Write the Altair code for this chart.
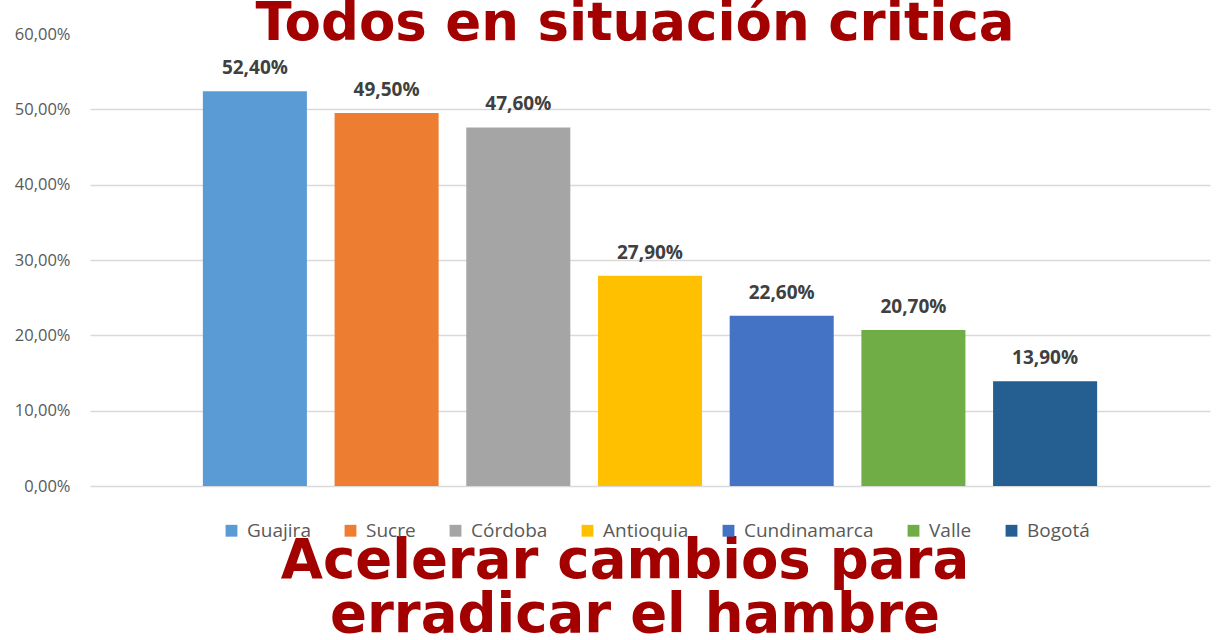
import altair as alt
import pandas as pd

departamentos = ["Guajira", "Sucre", "Córdoba", "Antioquia", "Cundinamarca", "Valle", "Bogotá"]
valores = [0.524, 0.495, 0.476, 0.279, 0.226, 0.207, 0.139]
colores = ["#5B9BD5", "#ED7D31", "#A5A5A5", "#FFC000", "#4472C4", "#70AD47", "#255E91"]
ticks_y = [0, 0.1, 0.2, 0.3, 0.4, 0.5, 0.6]
titulo = "Todos en situación critica"
linea1 = "Acelerar cambios para"
linea2 = "erradicar el hambre"

df = pd.DataFrame({"dep": departamentos, "val": valores})
df["label"] = [f"{v * 100:.2f}%".replace(".", ",") for v in valores]

RED = "#A30000"
FONT = "Open Sans"
BIG = "DejaVu Sans"

x = alt.X("dep:N", sort=departamentos, axis=None,
          scale=alt.Scale(paddingInner=0.21, paddingOuter=0.857))
y = alt.Y("val:Q", scale=alt.Scale(domain=[0, 0.6], nice=False),
          axis=alt.Axis(values=ticks_y, title=None, domain=False, ticks=False,
                        labelExpr="replace(format(datum.value, '.2%'), '.', ',')",
                        labelPadding=20, labelFontSize=16.5, labelColor="#595959",
                        labelFont=FONT, gridColor="#D9D9D9", gridWidth=1.5,
                        gridOpacity=alt.condition("datum.value >= 0.59", alt.value(0), alt.value(1))))

color = alt.Color("dep:N", sort=departamentos,
                  scale=alt.Scale(domain=departamentos, range=colores),
                  legend=alt.Legend(orient="none", legendX=132, legendY=487, direction="horizontal",
                                    title=None, symbolType="square", symbolSize=140,
                                    symbolStrokeWidth=0, labelFontSize=19, labelFont=FONT,
                                    labelColor="#595959", columnPadding=30, labelOffset=6))

base = alt.Chart(df)
bars = base.mark_bar().encode(x=x, y=y, color=color)
labels = base.mark_text(dy=-17, baseline="alphabetic", fontWeight="bold", fontSize=19,
                        font=FONT, color="#404040").encode(x=x, y="val:Q", text="label:N")

def big_text(txt, xv, yv, size):
    return alt.Chart(pd.DataFrame({"t": [txt]})).mark_text(
        font=BIG, fontWeight="bold", fontSize=size, color=RED, align="center",
        baseline="alphabetic").encode(text="t:N", x=alt.value(xv), y=alt.value(yv))

t1 = big_text(titulo, 545, 6, 53)
t2 = big_text(linea1, 535, 544, 54.5)
t3 = big_text(linea2, 545, 598, 54.5)

chart = alt.layer(bars, labels, t1, t2, t3).properties(
    width=1120, height=452,
    autosize=alt.AutoSizeParams(type="none"),
    padding={"left": 90, "top": 34, "right": 19, "bottom": 154},
    background="white",
).configure_view(stroke=None)

chart.save("out.html", embed_options={"renderer": "svg", "actions": False})
